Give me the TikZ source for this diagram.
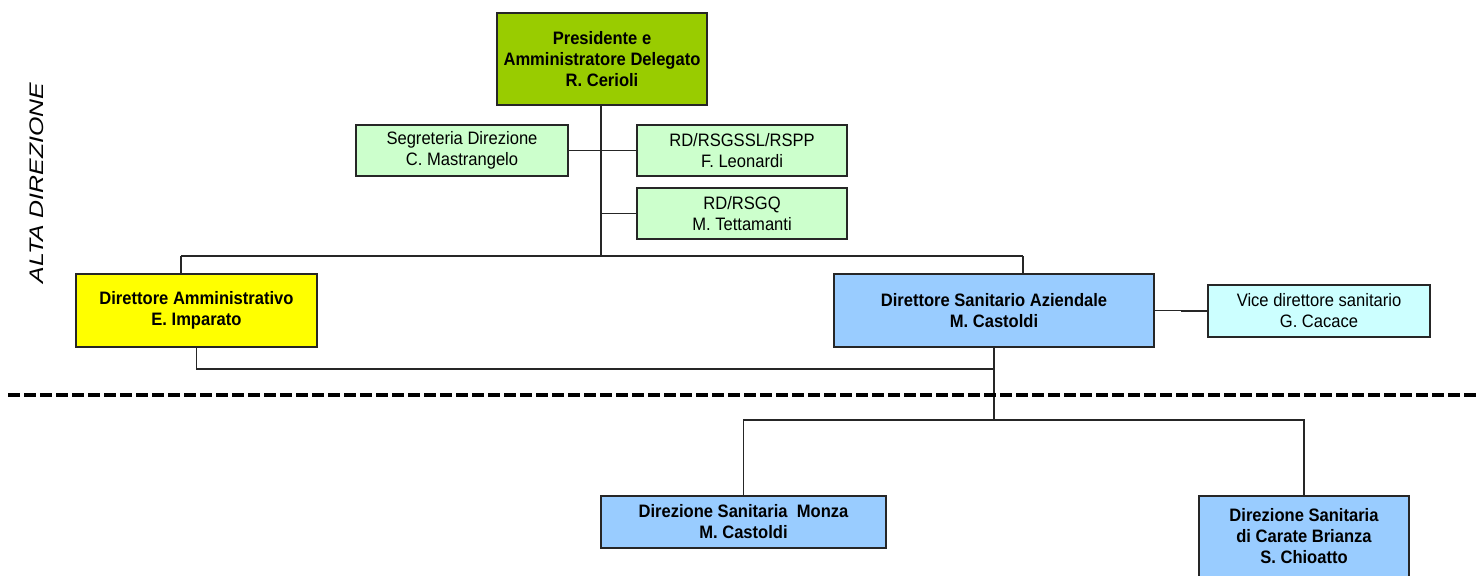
\documentclass[tikz,border=0pt]{standalone}
\usepackage{fontspec}
\setmainfont{Liberation Sans}[FakeStretch=0.92]
\newfontfamily\altafont{Liberation Sans}[FakeStretch=1.27]

\definecolor{presgreen}{HTML}{99CC00}
\definecolor{staffgreen}{HTML}{CCFFCC}
\definecolor{admyellow}{HTML}{FFFF00}
\definecolor{sanblue}{HTML}{99CCFF}
\definecolor{vicecyan}{HTML}{CCFFFF}

\begin{document}
\begin{tikzpicture}[x=0.75pt, y=-0.75pt,
    box/.style={draw=black!85, line width=0.9pt, align=center, inner sep=0pt,
      font=\fontsize{13.5}{15.75}\selectfont},
    boldbox/.style={box, font=\fontsize{13.5}{15.75}\selectfont\bfseries},
    staff/.style={box, fill=staffgreen, minimum height=38.25pt},
    link/.style={line width=0.9pt, draw=black!85}]
  \useasboundingbox (0,0) rectangle (1476,575);

  % top of the chart
  \node [boldbox, fill=presgreen, minimum width=157.5pt, minimum height=69pt]
    (pres) at (602,59) {Presidente e\\Amministratore Delegato\\R. Cerioli};

  % staff offices
  \node [staff, minimum width=159pt] (segr) at (462,150.5)
    {Segreteria Direzione\\C. Mastrangelo};
  \node [staff, minimum width=157.5pt] (rdssl) at (742,150.5)
    {RD/RSGSSL/RSPP\\F. Leonardi};
  \node [staff, minimum width=157.5pt] (rdsgq) at (742,213.5)
    {RD/RSGQ\\M. Tettamanti};

  % directors
  \node [boldbox, fill=admyellow, minimum width=180.75pt, minimum height=54.75pt]
    (diramm) at (196.5,310.5) {Direttore Amministrativo\\E. Imparato};
  \node [boldbox, fill=sanblue, minimum width=240pt, minimum height=54.75pt]
    (dirsan) at (994,310.5) {Direttore Sanitario Aziendale\\M. Castoldi};
  \node [box, fill=vicecyan, minimum width=166.5pt, minimum height=39pt]
    (vice) at (1319,311) {Vice direttore sanitario\\G. Cacace};

  % hospital directions
  \node [boldbox, fill=sanblue, minimum width=213.75pt, minimum height=39pt]
    (monza) at (743.5,522) {Direzione Sanitaria\ \ Monza\\M. Castoldi};
  \node [boldbox, fill=sanblue, minimum width=157.5pt, minimum height=60.75pt]
    (carate) at (1304,536.5) {Direzione Sanitaria\\di Carate Brianza\\S. Chioatto};

  % side label
  \node [rotate=90, font=\altafont\itshape\fontsize{14.7}{17}\selectfont]
    (alta) at (37,183) {ALTA DIREZIONE};

  % connectors
  \coordinate (topbus) at (601,256);
  \coordinate (ammjoin) at (181,256);
  \coordinate (sanjoin) at (1023,256);
  \coordinate (midbus) at (994,369);
  \coordinate (lowbus) at (994,420);

  \draw [link] (pres.south -| topbus) -- (topbus);
  \draw [link] (segr.east) -- (rdssl.west);
  \draw [link] (rdsgq.west) -- (rdsgq.west -| topbus);
  \draw [link] (ammjoin) -- (sanjoin);
  \draw [link] (ammjoin) -- (ammjoin |- diramm.north);
  \draw [link] (sanjoin) -- (sanjoin |- dirsan.north);
  \draw [link] (dirsan.east) -- ++(27,0) |- (vice.west);
  \draw [link] (diramm.south) |- (midbus);
  \draw [link] (dirsan.south) -- (lowbus);
  \draw [link] (monza.north) |- (lowbus) -| (carate.north);

  % boundary of the top management
  \draw [line width=3pt, dash pattern=on 9pt off 3pt] (8,395) -- (1476,395);
\end{tikzpicture}
\end{document}
